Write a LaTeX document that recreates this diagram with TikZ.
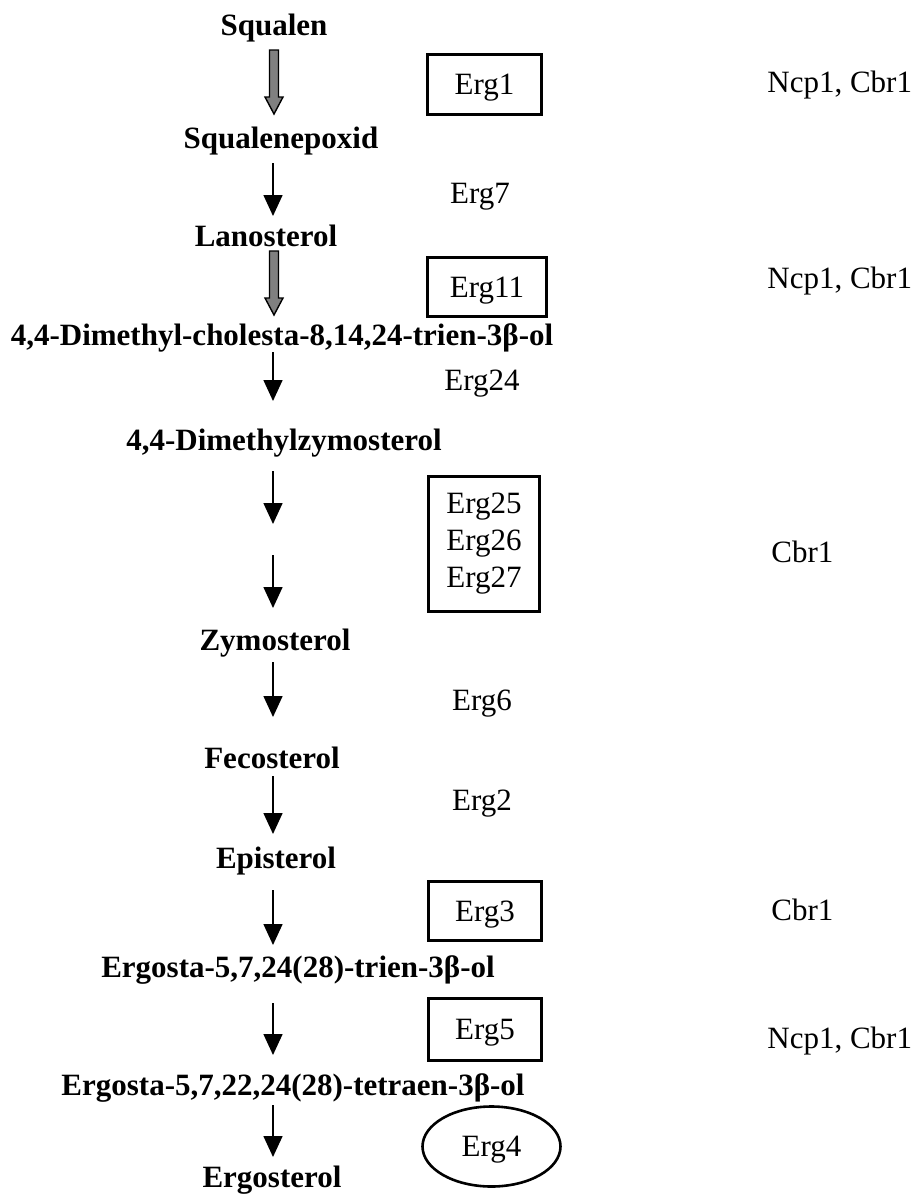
\documentclass[tikz,border=0pt]{standalone}
\usepackage{fontspec}
\setmainfont{Liberation Serif}
\usetikzlibrary{arrows.meta,shapes.geometric,calc}
\definecolor{arrowgray}{RGB}{128,128,128}
\begin{document}
\begin{tikzpicture}[x=0.5pt,y=-0.5pt,
  chem/.style={font=\fontsize{15.5}{18}\selectfont\bfseries, inner sep=0pt, anchor=base},
  lab/.style={font=\fontsize{15.5}{18}\selectfont, inner sep=0pt, anchor=base},
  side/.style={lab, anchor=base west},
  ebox/.style={draw, line width=1.5pt, font=\fontsize{15.5}{18}\selectfont, inner sep=0pt,
    text height=10.3pt, text depth=0pt, anchor=center},
  rxn/.style={line width=0.8pt, -{Triangle[width=9.5pt,length=10.5pt]}},
  bigarrow/.style={fill=arrowgray, draw=black, line width=0.7pt, line join=miter}
]
\useasboundingbox (0,0) rectangle (915,1194);

% metabolites
\node[chem] (sq)   at (274,35)   {Squalen};
\node[chem] (sqe)  at (281,148)  {Squalenepoxid};
\node[chem] (lan)  at (266,246)  {Lanosterol};
\node[chem] (dmc)  at (282,345)  {4,4-Dimethyl-cholesta-8,14,24-trien-3β-ol};
\node[chem] (dmz)  at (284,450)  {4,4-Dimethylzymosterol};
\node[chem] (zym)  at (275,650)  {Zymosterol};
\node[chem] (fec)  at (272,768)  {Fecosterol};
\node[chem] (epi)  at (276,868)  {Episterol};
\node[chem] (tri)  at (298,977)  {Ergosta-5,7,24(28)-trien-3β-ol};
\node[chem] (tet)  at (293,1095) {Ergosta-5,7,22,24(28)-tetraen-3β-ol};
\node[chem] (erg)  at (272,1187) {Ergosterol};

% enzymes
\node[ebox, minimum width=57pt, minimum height=30pt] (e1) at (484.5,84.5) {Erg1};
\node[lab] (e7) at (480,203) {Erg7};
\node[ebox, minimum width=59.5pt, minimum height=29.5pt] (e11) at (487,287) {Erg11};
\node[lab] (e24) at (482,390) {Erg24};
\node[draw, line width=1.5pt, font=\fontsize{15.5}{18.5}\selectfont, inner sep=0pt,
  align=center, minimum width=55.5pt, minimum height=67.5pt] (e25) at (484,544)
  {Erg25\\Erg26\\Erg27};
\node[lab] (e6) at (482,710) {Erg6};
\node[lab] (e2) at (482,810) {Erg2};
\node[ebox, minimum width=56.5pt, minimum height=29.5pt] (e3) at (485,911) {Erg3};
\node[ebox, minimum width=56.5pt, minimum height=31pt] (e5) at (485,1029.5) {Erg5};
\node[draw, ellipse, line width=1.3pt, font=\fontsize{15.5}{18}\selectfont, inner sep=0pt,
  text height=10.3pt, text depth=0pt, minimum width=69pt, minimum height=40pt] (e4)
  at (491.5,1146.5) {Erg4};

% regulators
\node[side] (r1) at (767,92)   {Ncp1, Cbr1};
\node[side] (r2) at (767,288)  {Ncp1, Cbr1};
\node[side] (r3) at (771,562)  {Cbr1};
\node[side] (r4) at (771,920)  {Cbr1};
\node[side] (r5) at (767,1048) {Ncp1, Cbr1};

% arrow end points
\coordinate (g1s) at (274,50);  \coordinate (g1e) at (274,114);
\coordinate (g2s) at (274,251); \coordinate (g2e) at (274,315);
\coordinate (a1s) at (273,163); \coordinate (a1e) at (273,216);
\coordinate (a2s) at (273,352); \coordinate (a2e) at (273,401);
\coordinate (a3s) at (273,471); \coordinate (a3e) at (273,524);
\coordinate (a4s) at (273,555); \coordinate (a4e) at (273,608);
\coordinate (a5s) at (273,662); \coordinate (a5e) at (273,717);
\coordinate (a6s) at (273,776); \coordinate (a6e) at (273,834);
\coordinate (a7s) at (273,890); \coordinate (a7e) at (273,945);
\coordinate (a8s) at (273,1003); \coordinate (a8e) at (273,1055);
\coordinate (a9s) at (273,1105); \coordinate (a9e) at (273,1157);

% gray block arrows
\foreach \s/\e in {g1s/g1e, g2s/g2e}{
  \draw[bigarrow] ($(\s)+(-4.5,0)$) -- ($(\e)+(-4.5,-17)$) -- ($(\e)+(-9,-17)$) -- (\e)
    -- ($(\e)+(9,-17)$) -- ($(\e)+(4.5,-17)$) -- ($(\s)+(4.5,0)$) -- cycle;
}

% black arrows
\foreach \i in {1,...,9}{
  \draw[rxn] (a\i s) -- (a\i e);
}
\end{tikzpicture}
\end{document}
